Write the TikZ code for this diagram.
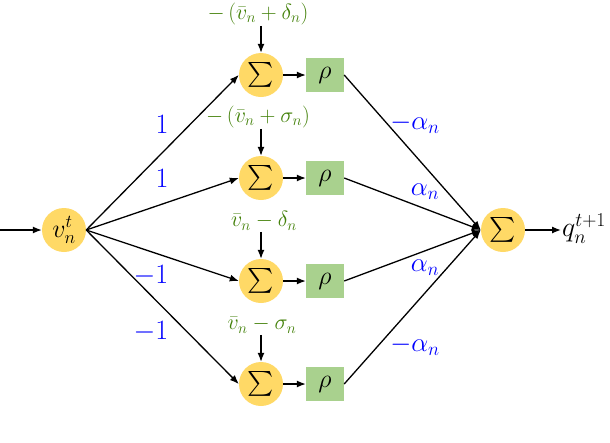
\RequirePackage{fix-cm}
\documentclass[tikz,border=0pt]{standalone}
\usepackage{amsmath}
\usetikzlibrary{arrows.meta}
\definecolor{sumyellow}{HTML}{FFD966}
\definecolor{rhogreen}{HTML}{A9D18E}
\definecolor{biasgreen}{RGB}{66,128,8}
\tikzset{
  sumnode/.style={circle, fill=sumyellow, minimum size=44pt, inner sep=0pt, font=\fontsize{26}{28}\selectfont},
  rhobox/.style={fill=rhogreen, minimum width=38pt, minimum height=34pt, inner sep=0pt, font=\fontsize{26}{28}\selectfont},
  wlabel/.style={text=blue, inner sep=0pt, font=\fontsize{28}{30}\selectfont},
  alabel/.style={text=blue, inner sep=0pt, font=\fontsize{27}{29}\selectfont},
  bias/.style={text=biasgreen, inner sep=1pt, font=\fontsize{22}{24}\selectfont},
  conn/.style={-{Latex[length=9pt,width=7pt]}, line width=1.3pt}
}
\begin{document}
\begin{tikzpicture}[x=1pt,y=-1pt]
\useasboundingbox (0,0) rectangle (610,442);
% input
\coordinate (in) at (0,230);
\node[sumnode] (v) at (64,230) {$v_n^t$};
% sums
\node[sumnode] (s1) at (261,75) {$\sum$};
\node[sumnode] (s2) at (261,178) {$\sum$};
\node[sumnode] (s3) at (261,281) {$\sum$};
\node[sumnode] (s4) at (261,384) {$\sum$};
% rho
\node[rhobox] (r1) at (325,75) {$\rho$};
\node[rhobox] (r2) at (325,178) {$\rho$};
\node[rhobox] (r3) at (325,281) {$\rho$};
\node[rhobox] (r4) at (325,384) {$\rho$};
% output
\node[sumnode] (o) at (503,230) {$\sum$};
\node[anchor=west, inner sep=1pt, font=\fontsize{28}{30}\selectfont] (q) at (561,229) {$q_n^{t+1}$};
% biases
\node[bias] (b1) at (258,14) {$-\left(\bar{v}_n+\delta_n\right)$};
\node[bias] (b2) at (258,117) {$-\left(\bar{v}_n+\sigma_n\right)$};
\node[bias] (b3) at (264,221) {$\bar{v}_n-\delta_n$};
\node[bias] (b4) at (262,325) {$\bar{v}_n-\sigma_n$};
% connectors
\draw[conn] (in) -- (v.west);
\foreach \i in {1,...,4}{
  \draw[conn] (v.east) -- (s\i.west);
  \draw[conn] (s\i.east) -- (r\i.west);
  \draw[conn] (r\i.east) -- (o.west);
  \draw[conn] ([yshift=27pt]s\i.north) -- (s\i.north);
}
\draw[conn] (o.east) -- (o.east -| q.west);
% weight labels
\node[wlabel] (w1) at (162,124) {$1$};
\node[wlabel] (w2) at (162,178) {$1$};
\node[wlabel] (w3) at (151,276) {$-1$};
\node[wlabel] (w4) at (151,332) {$-1$};
\node[alabel] (a1) at (415,124) {$-\alpha_n$};
\node[alabel] (a2) at (425,192) {$\alpha_n$};
\node[alabel] (a3) at (425,268) {$\alpha_n$};
\node[alabel] (a4) at (415,346) {$-\alpha_n$};
\end{tikzpicture}
\end{document}
